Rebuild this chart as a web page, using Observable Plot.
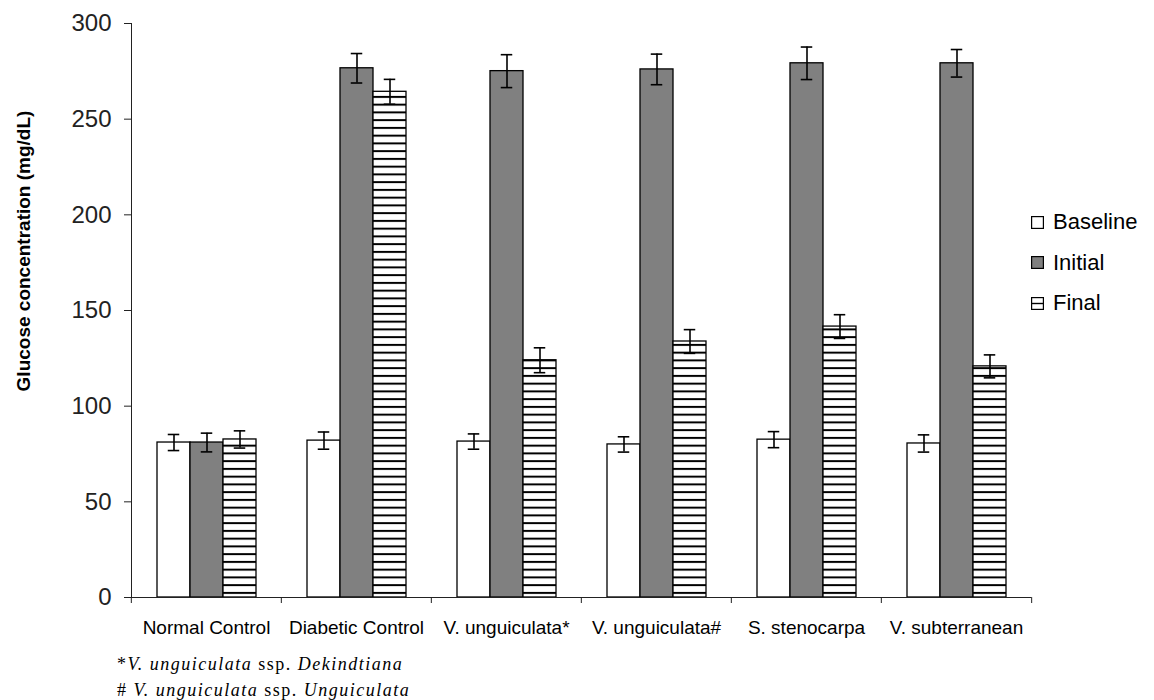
<!DOCTYPE html>
<html>
<head>
<meta charset="utf-8">
<script src="https://cdn.jsdelivr.net/npm/d3@7"></script>
<script src="https://cdn.jsdelivr.net/npm/@observablehq/plot@0.6"></script>
<style>
  html, body { margin: 0; padding: 0; background: white; }
  #wrap { position: relative; width: 1154px; height: 700px; font-family: "Liberation Sans", Arial, sans-serif; color: black; }
  #chart svg { display: block; }
  #chart svg [aria-label="fx-axis tick label"] { font-size: 19px; }
  #ylabel { position: absolute; left: 24px; top: 251px; transform: translate(-50%, -50%) rotate(-90deg); white-space: nowrap; font-weight: bold; font-size: 19px; }
  #legend { position: absolute; left: 1031px; top: 202px; font-size: 22px; }
  #legend .row { display: flex; align-items: center; height: 40.5px; }
  #legend svg { margin-right: 9px; display: block; }
  #notes { position: absolute; left: 117px; top: 651px; font-family: "Liberation Serif", "Times New Roman", serif; font-size: 18px; line-height: 26px; letter-spacing: 1.5px; }
  #notes i { font-style: italic; }
</style>
</head>
<body>
<div id="wrap">
  <div id="chart"></div>
  <div id="ylabel">Glucose concentration (mg/dL)</div>
  <div id="legend"></div>
  <div id="notes">
    <div>*<i>V. unguiculata</i> ssp. <i>Dekindtiana</i></div>
    <div># <i>V. unguiculata</i> ssp. <i>Unguiculata</i></div>
  </div>
</div>
<script>
const categories = ["Normal Control", "Diabetic Control", "V. unguiculata*", "V. unguiculata#", "S. stenocarpa", "V. subterranean"];
const series = ["Baseline", "Initial", "Final"];
const baseline    = [81.0, 82.0, 81.5, 80.0, 82.5, 80.5];
const baselineErr = [4.2, 4.5, 4.0, 4.0, 4.2, 4.5];
const initial     = [81.0, 276.6, 275.1, 276.0, 279.2, 279.2];
const initialErr  = [4.9, 7.7, 8.6, 8.0, 8.5, 7.2];
const final       = [82.6, 264.3, 124.0, 133.8, 141.6, 120.8];
const finalErr    = [4.5, 6.5, 6.5, 6.2, 6.2, 6.0];
const yTicks = [0, 50, 100, 150, 200, 250, 300];
const seriesColors = ["white", "#808080", "url(#hatch)"];

const valuesBySeries = {Baseline: [baseline, baselineErr], Initial: [initial, initialErr], Final: [final, finalErr]};
const rows = categories.flatMap((c, i) => series.map(s => ({
  category: c, series: s, value: valuesBySeries[s][0][i], err: valuesBySeries[s][1][i]
})));

const W = 1154, H = 640, mL = 130, mR = 122, mT = 23, mB = 43;
const half = (W - mL - mR) / categories.length / 2;

const chart = Plot.plot({
  width: W, height: H,
  marginLeft: mL, marginRight: mR, marginTop: mT, marginBottom: mB,
  style: {fontFamily: "'Liberation Sans', Arial, sans-serif", fontSize: "24px", color: "#222", background: "white", overflow: "visible"},
  fx: {domain: categories, padding: 0, label: null},
  x: {domain: series, paddingInner: 0, paddingOuter: 0.744, axis: null},
  y: {domain: [0, 300], ticks: yTicks, tickSize: 7, tickPadding: 13, line: true, label: null},
  color: {domain: series, range: seriesColors},
  marks: [
    Plot.barY(rows, {fx: "category", x: "series", y: "value", fill: "series", stroke: "black", strokeWidth: 1.3}),
    Plot.ruleX(rows, {fx: "category", x: "series", y1: d => d.value - d.err, y2: d => d.value + d.err, stroke: "black", strokeWidth: 1.6}),
    Plot.tickY(rows, {fx: "category", x: "series", y: d => d.value + d.err, insetLeft: 10.75, insetRight: 10.75, stroke: "black", strokeWidth: 1.6}),
    Plot.tickY(rows, {fx: "category", x: "series", y: d => d.value - d.err, insetLeft: 10.75, insetRight: 10.75, stroke: "black", strokeWidth: 1.6}),
    Plot.ruleY([0], {stroke: "#222", strokeWidth: 1.2}),
    Plot.axisFx({anchor: "bottom", tickSize: 0, tickPadding: 23, fontSize: 19, label: null, fill: "black"}),
    Plot.axisFx({anchor: "bottom", tickSize: 6, tickFormat: () => "", dx: -half, label: null}),
    Plot.axisFx({anchor: "bottom", ticks: [categories[categories.length - 1]], tickSize: 6, tickFormat: () => "", dx: half, label: null})
  ]
});

const defs = d3.select(chart).insert("defs", ":first-child");
const pat = defs.append("pattern").attr("id", "hatch").attr("patternUnits", "userSpaceOnUse")
  .attr("width", 8).attr("height", 7.75);
pat.append("rect").attr("width", 8).attr("height", 7.75).attr("fill", "white");
pat.append("line").attr("x1", 0).attr("x2", 8).attr("y1", 3.9).attr("y2", 3.9).attr("stroke", "black").attr("stroke-width", 2);

document.getElementById("chart").appendChild(chart);

// Legend
const legend = d3.select("#legend");
series.forEach((s, i) => {
  const row = legend.append("div").attr("class", "row");
  const sw = row.append("svg").attr("width", 13).attr("height", 13);
  sw.append("rect").attr("x", 0.6).attr("y", 0.6).attr("width", 11.8).attr("height", 11.8)
    .attr("fill", i === 2 ? "white" : seriesColors[i]).attr("stroke", "black").attr("stroke-width", 1.2);
  if (i === 2) sw.append("line").attr("x1", 0).attr("x2", 13).attr("y1", 6.5).attr("y2", 6.5).attr("stroke", "black").attr("stroke-width", 1.4);
  row.append("span").text(s);
});
</script>
</body>
</html>
